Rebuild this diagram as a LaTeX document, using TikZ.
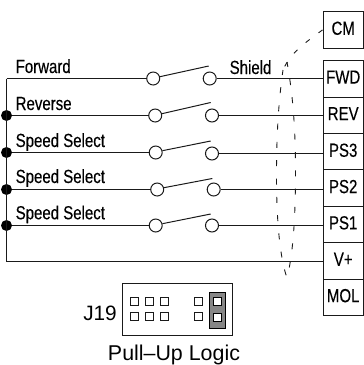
\documentclass[tikz,border=0pt]{standalone}
\usepackage{fontspec}
\setmainfont{Liberation Sans}
\newfontfamily\narrowfont[FakeStretch=0.79,FakeBold=0.25]{Liberation Sans}
\usetikzlibrary{calc}
\definecolor{ink}{HTML}{1a1a1a}
\tikzset{
  wire/.style={line width=1.3pt,draw=ink},
  blade/.style={line width=1pt,draw=ink},
  contact/.style={circle,draw=ink,fill=white,line width=1pt,minimum size=13pt,inner sep=0pt},
  junction/.style={circle,fill=black,minimum size=11pt,inner sep=0pt},
  terminal/.style={rectangle,draw=ink,fill=white,line width=.9pt,minimum width=40.5pt,minimum height=36.6pt,inner sep=0pt,
    text height=12.8pt,text depth=3pt,align=center,font=\narrowfont\fontsize{19}{19}\selectfont},
  lab/.style={anchor=base west,inner sep=0pt,font=\narrowfont\fontsize{19}{19}\selectfont,text=black},
  shielddash/.style={draw=ink,line width=.9pt,dash pattern=on 6pt off 12.3pt},
  pin/.style={rectangle,draw=ink,fill=white,line width=.8pt,minimum size=8pt,inner sep=0pt},
  jumperpin/.style={rectangle,draw=black,fill=white,line width=1pt,minimum size=8pt,inner sep=0pt},
}
\begin{document}
\begin{tikzpicture}[x=1pt,y=-1pt]
\useasboundingbox (0,0) rectangle (364,365);
% terminals
\node[terminal] (cm) at (343.2,29.9) {CM};
\node[terminal] (fwd) at (343.2,78.7) {FWD};
\node[terminal] (rev) at (343.2,115.3) {REV};
\node[terminal] (ps3) at (343.2,151.9) {PS3};
\node[terminal] (ps2) at (343.2,188.2) {PS2};
\node[terminal] (ps1) at (343.2,224.5) {PS1};
\node[terminal] (vp) at (343.2,260.9) {V+};
\node[terminal] (mol) at (343.2,297.3) {MOL};
% contacts
\node[contact] (a1) at (153.2,78.5) {};
\node[contact] (a2) at (155.2,115.5) {};
\node[contact] (a3) at (155.7,152.5) {};
\node[contact] (a4) at (157.2,189.5) {};
\node[contact] (a5) at (155.7,225.5) {};
\node[contact] (b1) at (209.7,78.5) {};
\node[contact] (b2) at (212,115.5) {};
\node[contact] (b3) at (212,153.5) {};
\node[contact] (b4) at (213.7,189.5) {};
\node[contact] (b5) at (212,225.5) {};
% junctions and corners
\coordinate (t) at (6.5,78.5);
\node[junction] (d2) at (6.5,115.5) {};
\node[junction] (d3) at (6.5,152.5) {};
\node[junction] (d4) at (6.5,189.5) {};
\node[junction] (d5) at (6.5,225.5) {};
\coordinate (bot) at (6.5,261.5);
\coordinate (e1) at (208.7,66);
\coordinate (e2) at (210.7,102.5);
\coordinate (e3) at (210.7,141);
\coordinate (e4) at (212.3,178.5);
\coordinate (e5) at (210.7,214);
% bus and wires
\draw[wire] (t) -- (bot);
\draw[wire] (t) -- (a1);
\draw[wire] (d2) -- (a2);
\draw[wire] (d3) -- (a3);
\draw[wire] (d4) -- (a4);
\draw[wire] (d5) -- (a5);
\draw[wire] (b1) -- (fwd.west |- b1);
\draw[wire] (b2) -- (rev.west |- b2);
\draw[wire] (b3) -- (ps3.west |- b3);
\draw[wire] (b4) -- (ps2.west |- b4);
\draw[wire] (b5) -- (ps1.west |- b5);
\draw[wire] (bot) -- (vp.west |- bot);
% blades
\draw[blade] (a1.15) -- (e1);
\draw[blade] (a2.15) -- (e2);
\draw[blade] (a3.15) -- (e3);
\draw[blade] (a4.15) -- (e4);
\draw[blade] (a5.15) -- (e5);
% shield
\draw[shielddash,dash pattern=on 5pt off 11pt] (cm.west) .. controls (305,43) and (291,52) .. (283,70);
\draw[shielddash,dash phase=1pt] (283,70) .. controls (278,105) and (276.5,140) .. (276.5,175)
   .. controls (276.5,215) and (279,255) .. (287,278);
\draw[shielddash,dash phase=1pt] (287,62) .. controls (293,95) and (295.5,130) .. (295.5,170)
   .. controls (295.5,210) and (294,250) .. (287,278);
% labels
\node[lab] (l1) at (15.5,73) {Forward};
\node[lab] (l2) at (15.5,110) {Reverse};
\node[lab] (l3) at (15.5,147) {Speed Select};
\node[lab] (l4) at (15.5,183) {Speed Select};
\node[lab] (l5) at (15.5,219.3) {Speed Select};
\node[lab] (sh) at (229.5,74) {Shield};
% J19
\node[rectangle,draw=ink,line width=.9pt,minimum width=110pt,minimum height=52.7pt,inner sep=0pt] (j) at (177.7,309.3) {};
\node[rectangle,draw=black,fill=gray!95,line width=.9pt,minimum width=15.7pt,minimum height=36pt,inner sep=0pt] (jump) at (217.2,310) {};
\foreach \n/\x in {a/134.3,b/149.3,c/164.3,d/198.7}{
  \node[pin] (p\n1) at (\x,301.7) {};
  \node[pin] (p\n2) at (\x,316) {};
}
\node[jumperpin] (q1) at (217.3,301.3) {};
\node[jumperpin] (q2) at (217.3,317) {};
\node[anchor=base east,inner sep=0pt,font=\fontsize{20.8}{20.8}\selectfont,text=black] (jl) at (117,320) {J19};
\node[anchor=base,inner sep=0pt,font=\fontsize{21.4}{21.4}\selectfont,text=black] (pl) at (174,360.5) {Pull–Up Logic};
\end{tikzpicture}
\end{document}
